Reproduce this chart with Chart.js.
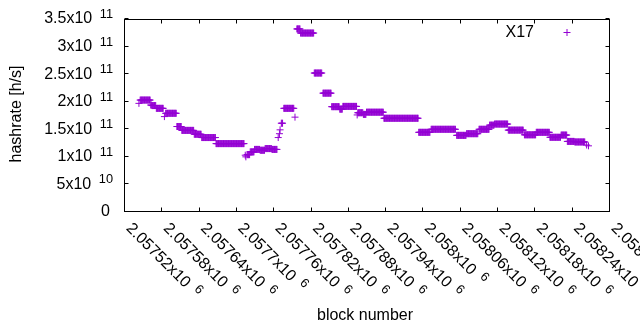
<!DOCTYPE html>
<html><head><meta charset="utf-8">
<script src="https://cdn.jsdelivr.net/npm/chart.js@4/dist/chart.umd.min.js"></script>
<style>html,body{margin:0;padding:0;background:#fff;}canvas{display:block;}</style>
</head><body>
<canvas id="c" width="640" height="330"></canvas>
<script>
// ---- data (one marker per block, given as runs of equal hashrate) ----
const seriesName = "X17";
const runFirstBlock = [2057544,2057546,2057563,2057565,2057572,2057585,2057587,2057605,2057613,2057633,2057645,2057668,2057715,2057716,2057718,2057723,2057730,2057739,2057747,2057758,2057768,2057770,2057771,2057773,2057777,2057795,2057798,2057804,2057826,2057840,2057854,2057867,2057872,2057895,2057896,2057905,2057910,2057938,2057994,2058014,2058055,2058071,2058091,2058108,2058116,2058138,2058164,2058183,2058205,2058223,2058233,2058245,2058264,2058267];
const runLastBlock  = [2057544,2057562,2057564,2057571,2057583,2057585,2057604,2057612,2057632,2057644,2057667,2057713,2057715,2057716,2057722,2057729,2057738,2057746,2057757,2057766,2057768,2057770,2057771,2057775,2057793,2057795,2057803,2057825,2057838,2057853,2057866,2057871,2057894,2057895,2057904,2057909,2057937,2057993,2058012,2058053,2058070,2058089,2058107,2058115,2058137,2058162,2058182,2058204,2058222,2058232,2058244,2058261,2058264,2058267];
const runHashrate   = [1.97e11,2.03e11,1.94e11,1.93e11,1.88e11,1.73e11,1.79e11,1.55e11,1.48e11,1.41e11,1.35e11,1.24e11,1.03e11,1.00e11,1.04e11,1.09e11,1.135e11,1.12e11,1.15e11,1.135e11,1.35e11,1.42e11,1.49e11,1.61e11,1.88e11,1.72e11,3.32e11,3.245e11,2.52e11,2.155e11,1.91e11,1.865e11,1.915e11,1.76e11,1.80e11,1.77e11,1.81e11,1.70e11,1.445e11,1.50e11,1.39e11,1.42e11,1.50e11,1.575e11,1.595e11,1.485e11,1.40e11,1.445e11,1.355e11,1.395e11,1.28e11,1.27e11,1.215e11,1.20e11];

const xTickValues = [2057520,2057580,2057640,2057700,2057760,2057820,2057880,2057940,2058000,2058060,2058120,2058180,2058240,2058300];
const xTickLabels = ["2.05752x10","2.05758x10","2.05764x10","2.0577x10","2.05776x10","2.05782x10","2.05788x10","2.05794x10","2.058x10","2.05806x10","2.05812x10","2.05818x10","2.05824x10","2.0583x10"];
const xTickExponents = ["6","6","6","6","6","6","6","6","6","6","6","6","6","6"];
const yTickValues = [0,5e10,1e11,1.5e11,2e11,2.5e11,3e11,3.5e11];
const yTickLabels = ["0","5x10","1x10","1.5x10","2x10","2.5x10","3x10","3.5x10"];
const yTickExponents = ["","10","11","11","11","11","11","11"];
const xTitle = "block number";
const yTitle = "hashrate [h/s]";

const COLOR = "#9400d3";
const FONT = "Liberation Sans";
const MAIN_PX = 16, EXP_PX = 12.8;

const points = [];
for (let i = 0; i < runFirstBlock.length; i++) {
  for (let b = runFirstBlock[i]; b <= runLastBlock[i]; b++) points.push({x: b, y: runHashrate[i]});
}

const framePlugin = {
  id: 'frame',
  afterDraw(chart) {
    const ctx = chart.ctx, a = chart.chartArea;
    const xs = chart.scales.x, ys = chart.scales.y;
    ctx.save();
    ctx.strokeStyle = '#000'; ctx.lineWidth = 1;
    const L = Math.round(a.left) + 0.5, R = Math.round(a.right) + 0.5, T = Math.round(a.top) + 0.5, B = Math.round(a.bottom) - 0.5;
    ctx.strokeRect(L, T, R - L, B - T);
    ctx.beginPath();
    xTickValues.forEach(v => {
      const p = Math.round(xs.getPixelForValue(v)) + 0.5;
      ctx.moveTo(p, B); ctx.lineTo(p, B - 4);
      ctx.moveTo(p, T); ctx.lineTo(p, T + 4);
    });
    yTickValues.forEach(v => {
      const p = Math.round(ys.getPixelForValue(v)) - 0.5;
      ctx.moveTo(L, p); ctx.lineTo(L + 4, p);
      ctx.moveTo(R, p); ctx.lineTo(R - 4, p);
    });
    ctx.stroke();

    ctx.fillStyle = '#000';
    ctx.textBaseline = 'middle';
    // y tick labels
    yTickValues.forEach((v, i) => {
      const p = ys.getPixelForValue(v);
      const ex = yTickExponents[i];
      if (ex) {
        ctx.font = EXP_PX + 'px "' + FONT + '"';
        ctx.textAlign = 'right';
        const ew = ctx.measureText(ex).width;
        ctx.fillText(ex, 113, p - 4.5);
        ctx.font = MAIN_PX + 'px "' + FONT + '"';
        ctx.fillText(yTickLabels[i], 113 - ew - 7.5, p);
      } else {
        ctx.font = MAIN_PX + 'px "' + FONT + '"';
        ctx.textAlign = 'right';
        ctx.fillText(yTickLabels[i], 110, p);
      }
    });
    // x tick labels, rotated
    xTickValues.forEach((v, i) => {
      const p = xs.getPixelForValue(v);
      ctx.save();
      ctx.translate(p + 4.5, a.bottom + 14);
      ctx.rotate(Math.PI / 4);
      ctx.textAlign = 'left';
      ctx.font = MAIN_PX + 'px "' + FONT + '"';
      ctx.fillText(xTickLabels[i], 0, 0);
      const w = ctx.measureText(xTickLabels[i]).width;
      ctx.font = EXP_PX + 'px "' + FONT + '"';
      ctx.fillText(xTickExponents[i], w + 7.5, -4.5);
      ctx.restore();
    });
    // axis titles
    ctx.font = MAIN_PX + 'px "' + FONT + '"';
    ctx.textAlign = 'center';
    ctx.fillText(xTitle, 365, 316);
    ctx.save();
    ctx.translate(17, 114);
    ctx.rotate(-Math.PI / 2);
    ctx.fillText(yTitle, 0, 0);
    ctx.restore();
    // legend
    ctx.textAlign = 'right';
    ctx.fillText(chart.data.datasets[0].label, 534, 32.5);
    ctx.strokeStyle = COLOR;
    ctx.beginPath();
    ctx.moveTo(563.5, 32.5); ctx.lineTo(570.5, 32.5);
    ctx.moveTo(567, 29); ctx.lineTo(567, 36);
    ctx.stroke();
    ctx.restore();
  }
};

new Chart(document.getElementById('c').getContext('2d'), {
  type: 'scatter',
  data: {datasets: [{
    label: seriesName, data: points,
    pointStyle: 'cross', pointRadius: 3.5, pointHoverRadius: 3.5,
    borderColor: COLOR, backgroundColor: COLOR,
    pointBorderColor: COLOR, pointBackgroundColor: COLOR, pointBorderWidth: 1,
    showLine: false
  }]},
  options: {
    responsive: false, animation: false, devicePixelRatio: 1, events: [],
    layout: {padding: {left: 0, right: 31, top: 19, bottom: 0}},
    plugins: {legend: {display: false}, tooltip: {enabled: false}},
    scales: {
      x: {type: 'linear', min: 2057520, max: 2058300,
          afterBuildTicks: s => { s.ticks = xTickValues.map(v => ({value: v})); },
          afterFit: s => { s.height = 118; },
          ticks: {display: false}, grid: {display: false}, border: {display: false}},
      y: {type: 'linear', min: 0, max: 3.5e11,
          afterBuildTicks: s => { s.ticks = yTickValues.map(v => ({value: v})); },
          afterFit: s => { s.width = 124; },
          ticks: {display: false}, grid: {display: false}, border: {display: false}}
    }
  },
  plugins: [framePlugin]
});
</script>
</body></html>
